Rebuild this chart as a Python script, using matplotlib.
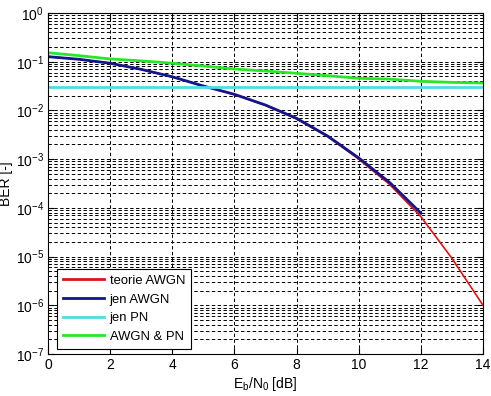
import numpy as np
import matplotlib
matplotlib.use("Agg")
import matplotlib.pyplot as plt
from matplotlib.ticker import LogLocator, FixedLocator, NullFormatter

# ---- data ----
ebn0 = [0, 1, 2, 3, 4, 5, 6, 7, 8, 9, 10, 11, 12, 13, 14]
ber_theory = [0.127, 0.112, 0.093, 0.0697, 0.049, 0.0317, 0.0212, 0.0127,
              0.0067, 0.00290, 1.00e-3, 3.0e-4, 6.6e-5, 9.2e-6, 1.0e-6]
ebn0_sim = [0, 1, 2, 3, 4, 5, 6, 7, 8, 9, 10, 11, 12]
ber_awgn = [0.127, 0.112, 0.093, 0.0697, 0.049, 0.0317, 0.0214, 0.0129,
            0.00688, 0.00298, 1.06e-3, 3.3e-4, 7.8e-5]
ber_pn = [0.0307] * len(ebn0)
ber_both = [0.153, 0.133, 0.114, 0.104, 0.093, 0.0816, 0.0708, 0.0644,
            0.0578, 0.0517, 0.0456, 0.044, 0.0396, 0.0377, 0.0365]
labels = ["teorie AWGN", "jen AWGN", "jen PN", "AWGN & PN"]
xticks = [0, 2, 4, 6, 8, 10, 12, 14]

plt.rcParams['font.family'] = ['Liberation Sans', 'DejaVu Sans']
plt.rcParams['mathtext.fontset'] = 'custom'
plt.rcParams['mathtext.rm'] = 'Liberation Sans'
plt.rcParams['mathtext.it'] = 'Liberation Sans'
plt.rcParams['mathtext.default'] = 'regular'

fig = plt.figure(figsize=(4.91, 3.96), dpi=100)
ax = fig.add_axes([48/491, 42/396, 435/491, 341/396])

ax.semilogy(ebn0, ber_theory, color='#dc1414', lw=1.2, label=labels[0])
ax.semilogy(ebn0_sim, ber_awgn, color='#14148c', lw=2.0, label=labels[1])
ax.semilogy(ebn0, ber_pn, color='#50dce6', lw=2.0, label=labels[2])
ax.semilogy(ebn0, ber_both, color='#28e628', lw=2.0, label=labels[3])

ax.set_xlim(0, 14)
ax.set_ylim(1e-7, 1)
ax.xaxis.set_major_locator(FixedLocator(xticks))
ax.yaxis.set_major_locator(LogLocator(base=10, numticks=20))
ax.yaxis.set_minor_locator(LogLocator(base=10, subs=np.arange(2, 10), numticks=20))
ax.yaxis.set_minor_formatter(NullFormatter())

ax.grid(True, which='major', axis='both', color='black', lw=0.7, linestyle=(0, (3.5, 2.5)))
ax.grid(True, which='minor', axis='y', color='black', lw=0.7, linestyle=(0, (3.5, 2.5)))
ax.set_axisbelow(True)

ax.tick_params(which='both', direction='in', top=True, right=True, labelsize=10)
ax.tick_params(which='major', length=4, pad=3)
ax.tick_params(which='minor', length=2)
for s in ax.spines.values():
    s.set_linewidth(0.8)

ax.set_xlabel(r'E$_b$/N$_0$ [dB]', fontsize=10, labelpad=2)
ax.set_ylabel('BER [-]', fontsize=10)
ax.yaxis.set_label_coords(-0.080, 0.5)

leg = ax.legend(loc='lower left', bbox_to_anchor=(0.02, 0.015), borderaxespad=0,
                fontsize=9.4, fancybox=False, framealpha=1, edgecolor='black',
                handlelength=3.2, handletextpad=0.4, labelspacing=0.5,
                borderpad=0.45)
leg.get_frame().set_linewidth(0.8)
for l in leg.get_lines():
    l.set_linewidth(2.0)

fig.savefig('out.png', dpi=100)
